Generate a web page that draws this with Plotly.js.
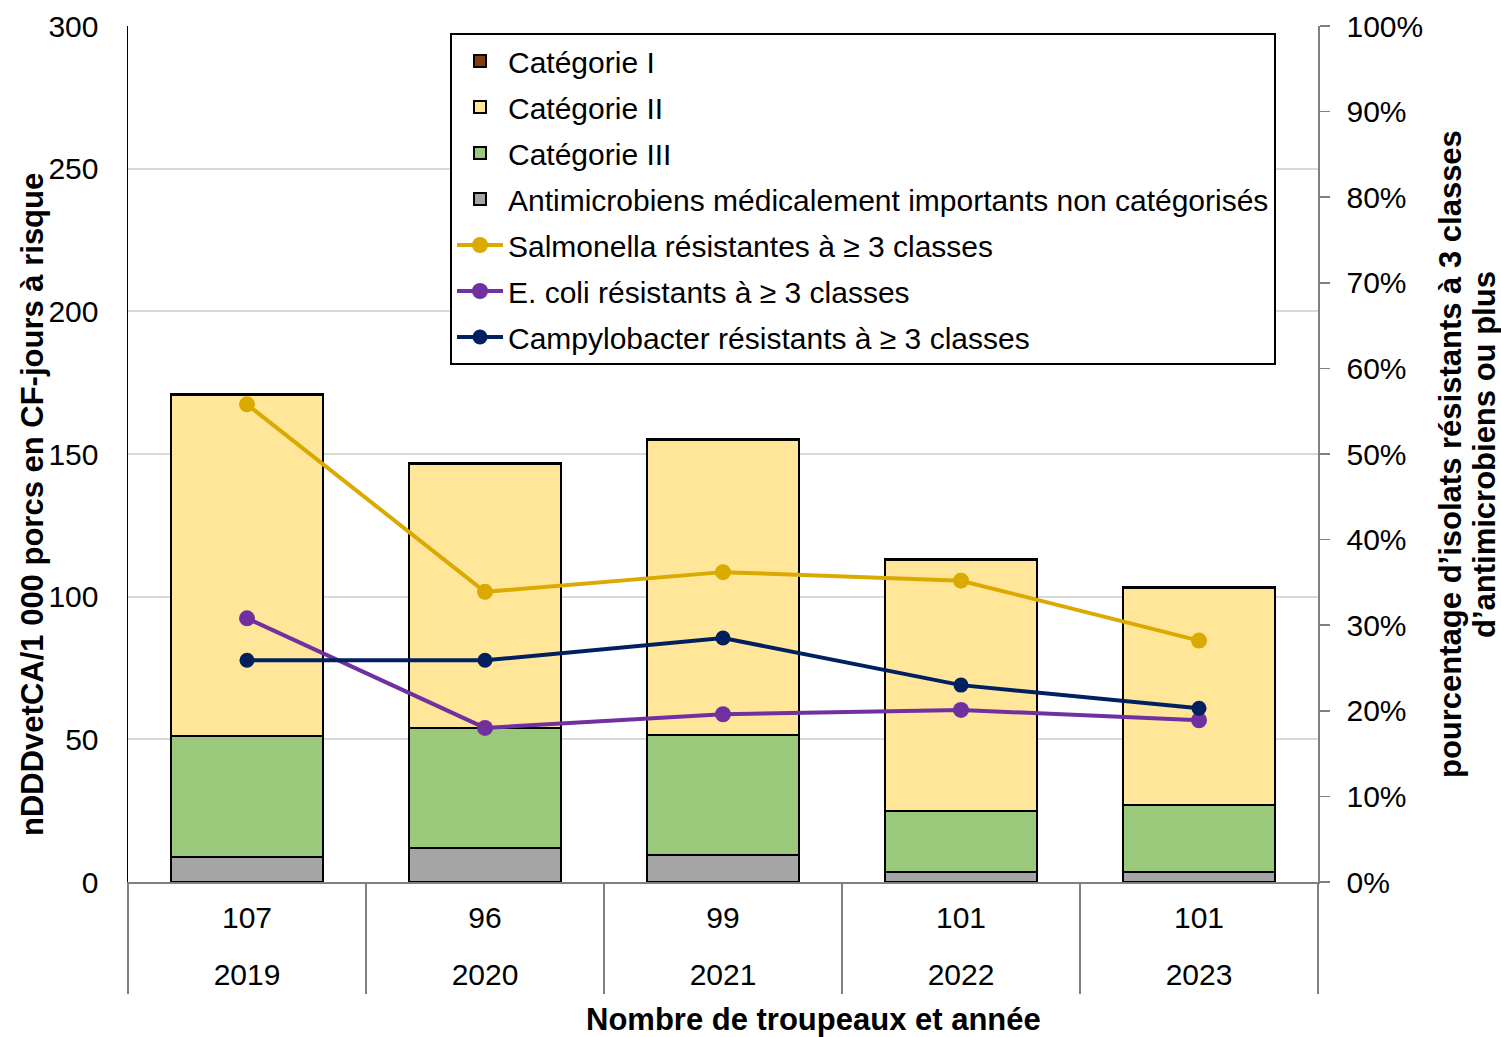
<!DOCTYPE html>
<html>
<head>
<meta charset="utf-8">
<script src="https://cdn.plot.ly/plotly-3.0.1.min.js"></script>
<style>html,body{margin:0;padding:0;background:#fff;}#chart{width:1501px;height:1037px;}</style>
</head>
<body>
<div id="chart"></div>
<script>
// Categories
const years = ['2019', '2020', '2021', '2022', '2023'];
const herds = ['107', '96', '99', '101', '101'];

// Antimicrobial use (nDDDvetCA/1 000 porcs en CF-jours à risque)
const catI = [0.4, 0.4, 0.4, 0.4, 0.4];
const catII = [119.4, 92.5, 103.4, 87.9, 76.0];
const catIII = [42.4, 42.1, 42.0, 21.4, 23.5];
const nonCat = [8.8, 11.9, 9.5, 3.5, 3.5];

// Percentage of isolates resistant to >= 3 classes
const salmonella = [55.8, 33.9, 36.2, 35.2, 28.2];
const ecoli = [30.8, 18.0, 19.6, 20.1, 18.9];
const campylobacter = [25.9, 25.9, 28.5, 23.0, 20.3];

const FONT = 'Liberation Sans, Arial, sans-serif';
const L = 128, R = 183, T = 26, B = 155, W = 1501, H = 1037;
const pw = W - L - R, ph = H - T - B;
const px = v => (v - L) / pw;
const py = v => (H - B - v) / ph;
const xr = [-0.5, years.length - 0.5];

const barLine = {color: '#000000', width: 2};
function bar(name, y, color, rank) {
  return {type: 'bar', name: name, x: years, y: y, width: 0.64,
    marker: {color: color, line: barLine}, legendgroup: name, legendrank: rank,
    hoverinfo: 'skip'};
}
function line(name, y, color, msize, rank) {
  return {type: 'scatter', mode: 'lines+markers', name: name, x: years, y: y,
    xaxis: 'x2', yaxis: 'y2',
    line: {color: color, width: 4}, marker: {color: color, size: msize},
    legendgroup: name, legendrank: rank, hoverinfo: 'skip'};
}

const data = [
  bar('Antimicrobiens médicalement importants non catégorisés', nonCat, '#A5A5A5', 4),
  bar('Catégorie III', catIII, '#9BC97C', 3),
  bar('Catégorie II', catII, '#FFE699', 2),
  bar('Catégorie I', catI, '#843C0C', 1),
  line('Salmonella résistantes à ≥ 3 classes', salmonella, '#DAAA00', 16, 5),
  line('E. coli résistants à ≥ 3 classes', ecoli, '#7030A0', 16, 6),
  line('Campylobacter résistants à ≥ 3 classes', campylobacter, '#002060', 15, 7)
];

const tickFont = {family: FONT, size: 30, color: '#000000'};

const layout = {
  width: W, height: H,
  margin: {l: L, r: R, t: T, b: B, pad: 0},
  paper_bgcolor: '#ffffff', plot_bgcolor: '#ffffff',
  font: {family: FONT, size: 30, color: '#000000'},
  barmode: 'stack',
  showlegend: true,
  legend: {
    x: px(450), y: py(33), xanchor: 'left', yanchor: 'top',
    bgcolor: '#ffffff', bordercolor: '#000000', borderwidth: 2,
    font: {family: FONT, size: 30, color: '#000000'},
    traceorder: 'grouped', tracegroupgap: 4, itemwidth: 46
  },
  xaxis: {
    type: 'category', range: xr,
    tickvals: years, ticktext: herds,
    showline: true, linecolor: '#808080', linewidth: 1.5,
    showgrid: false, ticks: '', zeroline: false,
    ticklabelstandoff: 8,
    tickfont: tickFont
  },
  xaxis2: {
    type: 'category', overlaying: 'x', anchor: 'y2', side: 'bottom', range: xr,
    showline: false, showgrid: false, zeroline: false,
    ticks: 'outside', tickson: 'boundaries', ticklen: 111,
    tickcolor: '#808080', tickwidth: 1.5,
    ticklabelstandoff: 72,
    tickfont: tickFont
  },
  yaxis: {
    range: [0, 300], dtick: 50, tick0: 0,
    showline: true, linecolor: '#000000', linewidth: 1.5,
    showgrid: true, gridcolor: '#D9D9D9', gridwidth: 2,
    zeroline: false, ticks: '', ticklabelstandoff: 22,
    tickfont: tickFont
  },
  yaxis2: {
    overlaying: 'y', side: 'right', anchor: 'x',
    range: [0, 100], dtick: 10, tick0: 0, ticksuffix: '%',
    showline: true, linecolor: '#808080', linewidth: 1.5,
    showgrid: false, zeroline: false,
    ticks: 'outside', ticklen: 10, tickcolor: '#808080', tickwidth: 1.5,
    ticklabelstandoff: 11,
    tickfont: tickFont
  },
  annotations: [
    {text: '<b>nDDDvetCA/1 000 porcs en CF-jours à risque</b>', xref: 'paper', yref: 'paper',
     x: px(32), y: py(505), xanchor: 'center', yanchor: 'middle', textangle: -90,
     showarrow: false, font: {family: FONT, size: 31, color: '#000000'}},
    {text: '<b>pourcentage d\u2019isolats résistants à 3 classes</b>',
     xref: 'paper', yref: 'paper', x: px(1450), y: py(454), xanchor: 'center', yanchor: 'middle',
     textangle: -90, showarrow: false, font: {family: FONT, size: 31, color: '#000000'}},
    {text: '<b>d\u2019antimicrobiens ou plus</b>',
     xref: 'paper', yref: 'paper', x: px(1485), y: py(455), xanchor: 'center', yanchor: 'middle',
     textangle: -90, showarrow: false, font: {family: FONT, size: 31, color: '#000000'}},
    {text: '<b>Nombre de troupeaux et année</b>', xref: 'paper', yref: 'paper',
     x: px(814), y: py(1000), xanchor: 'center', yanchor: 'top',
     showarrow: false, font: {family: FONT, size: 31, color: '#000000'}}
  ]
};

Plotly.newPlot('chart', data, layout, {displayModeBar: false, staticPlot: true});
</script>
</body>
</html>
